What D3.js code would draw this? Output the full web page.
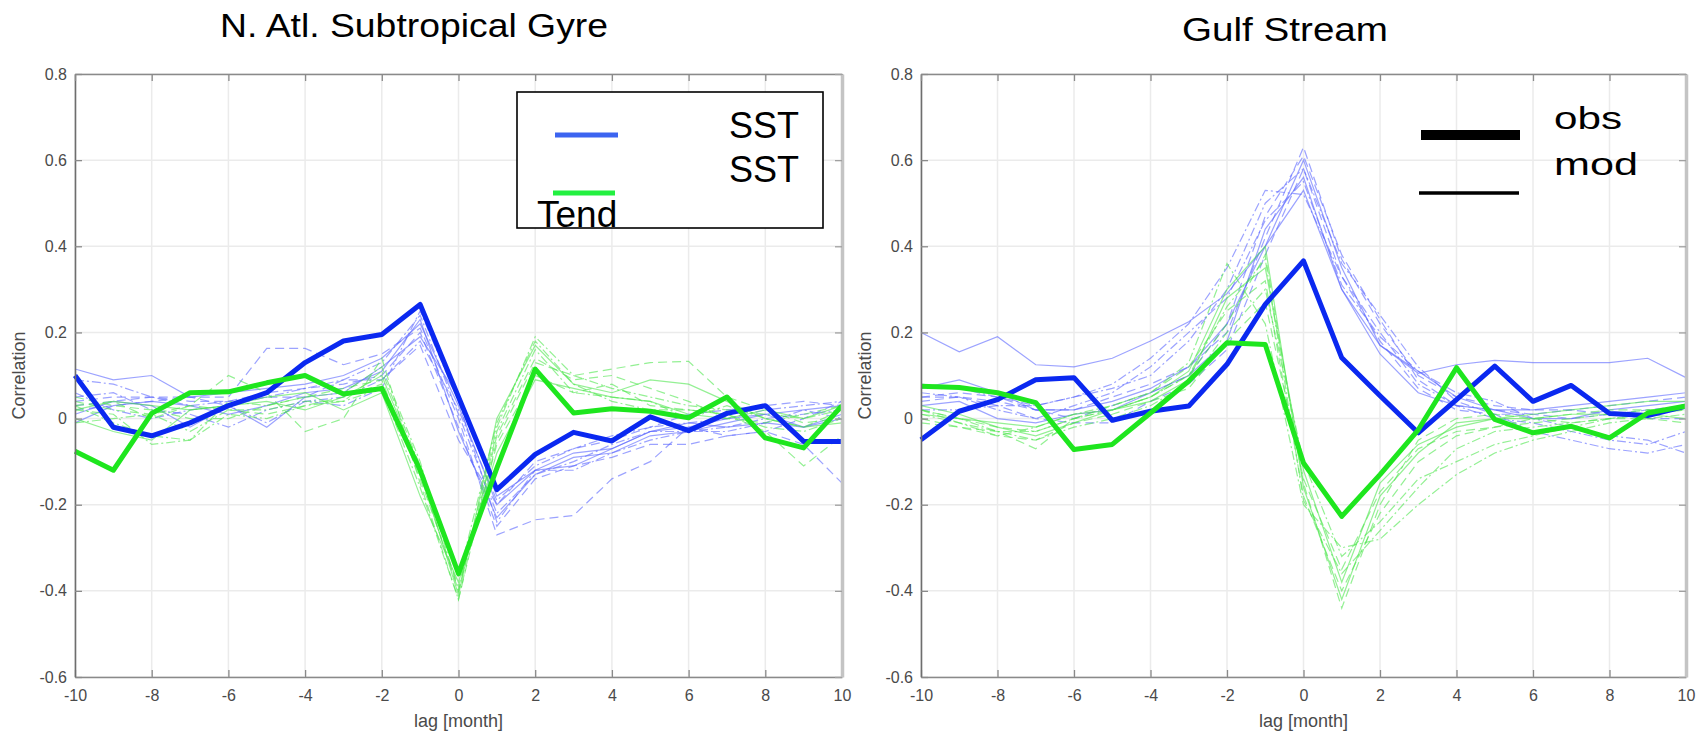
<!DOCTYPE html>
<html lang="en">
<head>
  <meta charset="UTF-8">
  <title>Lagged correlation</title>
  <style>
    body { margin: 0; background: #fff; }
    text { font-family: "Liberation Sans", Arial, sans-serif; }
  </style>
</head>
<body>
<script src="https://d3js.org/d3.v7.min.js"></script>
<div class="chart-container"></div>
<script>
  // lags in months
  const lags = d3.range(-10, 11);
  const xTicks = [-10, -8, -6, -4, -2, 0, 2, 4, 6, 8, 10];
  const yTicks = [-0.6, -0.4, -0.2, 0, 0.2, 0.4, 0.6, 0.8];
  const yTickLabels = ["-0.6", "-0.4", "-0.2", "0", "0.2", "0.4", "0.6", "0.8"];

  // N. Atl. Subtropical Gyre: observations
  const gyreObsSST = [0.10, -0.02, -0.04, -0.01, 0.03, 0.06, 0.13, 0.18, 0.195, 0.265, 0.05, -0.165, -0.083, -0.032, -0.052, 0.004, -0.028, 0.012, 0.03, -0.053, -0.053];
  const gyreObsTend = [-0.076, -0.12, 0.012, 0.06, 0.062, 0.083, 0.10, 0.057, 0.07, -0.12, -0.36, -0.115, 0.115, 0.013, 0.023, 0.017, 0.002, 0.05, -0.045, -0.068, 0.03];

  // N. Atl. Subtropical Gyre: model members (SST)
  const gyreModSST = [
    [0.115, 0.09, 0.10, 0.05, 0.06, 0.07, 0.08, 0.10, 0.14, 0.22, 0.03, -0.20, -0.12, -0.11, -0.07, -0.03, -0.02, 0.0, 0.01, 0.02, 0.03],
    [0.04, 0.05, 0.05, 0.05, 0.05, 0.163, 0.163, 0.125, 0.15, 0.21, 0.0, -0.27, -0.235, -0.225, -0.14, -0.10, -0.02, -0.04, -0.03, -0.06, -0.15],
    [0.09, 0.08, 0.05, 0.03, 0.04, 0.05, 0.07, 0.09, 0.13, 0.24, 0.01, -0.22, -0.13, -0.10, -0.06, -0.03, -0.03, -0.02, 0.0, 0.01, 0.02],
    [0.01, 0.04, 0.03, -0.02, 0.03, -0.02, 0.05, 0.06, 0.12, 0.19, 0.05, -0.18, -0.12, -0.08, -0.07, -0.03, -0.01, -0.02, -0.01, -0.02, 0.0],
    [0.03, 0.04, 0.05, 0.04, 0.04, 0.06, 0.07, 0.08, 0.10, 0.20, -0.02, -0.25, -0.14, -0.11, -0.09, -0.06, -0.06, -0.04, -0.03, 0.0, 0.04],
    [0.05, 0.06, 0.02, 0.01, -0.02, 0.02, 0.04, 0.05, 0.09, 0.18, 0.02, -0.19, -0.11, -0.07, -0.04, -0.02, -0.01, 0.0, 0.02, 0.03, 0.04],
    [-0.01, 0.03, 0.04, 0.03, 0.01, 0.03, 0.06, 0.07, 0.11, 0.23, -0.03, -0.23, -0.13, -0.09, -0.08, -0.04, -0.03, -0.01, 0.01, -0.02, 0.01],
    [0.02, 0.03, 0.04, 0.05, 0.03, 0.05, 0.05, 0.09, 0.09, 0.17, -0.05, -0.20, -0.10, -0.07, -0.05, -0.02, 0.01, 0.02, 0.03, 0.04, 0.03],
    [0.06, 0.02, 0.0, 0.02, 0.03, -0.01, 0.04, 0.03, 0.07, 0.25, 0.04, -0.24, -0.12, -0.12, -0.08, -0.05, -0.03, -0.03, -0.01, 0.02, 0.0]
  ];
  // N. Atl. Subtropical Gyre: model members (SST tendency)
  const gyreModTend = [
    [0.03, 0.04, 0.0, 0.03, 0.10, 0.06, -0.03, 0.0, 0.14, -0.15, -0.42, -0.05, 0.13, 0.10, 0.115, 0.13, 0.133, 0.05, 0.02, -0.01, 0.0],
    [0.02, 0.01, -0.06, -0.05, 0.04, 0.03, 0.05, 0.06, 0.12, -0.10, -0.40, -0.02, 0.19, 0.10, 0.07, 0.05, 0.03, 0.02, 0.01, 0.0, 0.02],
    [0.0, -0.03, -0.05, 0.02, 0.03, 0.04, 0.02, 0.05, 0.10, -0.12, -0.41, 0.0, 0.17, 0.08, 0.06, 0.09, 0.08, 0.04, 0.0, -0.02, -0.01],
    [0.05, 0.03, 0.02, 0.0, 0.0, 0.03, 0.05, 0.07, 0.09, -0.14, -0.39, -0.06, 0.10, 0.06, 0.08, 0.03, 0.02, 0.01, -0.03, -0.11, -0.04],
    [-0.01, 0.0, 0.01, -0.03, 0.02, 0.02, 0.04, 0.04, 0.07, -0.16, -0.42, -0.03, 0.16, 0.06, 0.05, 0.04, 0.0, 0.03, 0.0, -0.02, 0.02],
    [0.02, 0.04, 0.03, 0.02, 0.03, 0.05, 0.06, 0.02, 0.06, -0.18, -0.38, -0.08, 0.09, 0.07, 0.05, 0.04, 0.01, 0.0, 0.02, 0.0, 0.03],
    [0.04, 0.02, 0.01, 0.03, 0.02, 0.01, 0.03, 0.05, 0.08, -0.13, -0.40, -0.04, 0.14, 0.09, 0.10, 0.07, 0.04, 0.0, -0.01, 0.01, 0.03],
    [0.03, -0.01, -0.04, -0.05, 0.01, 0.0, 0.03, 0.04, 0.11, -0.11, -0.37, -0.01, 0.18, 0.08, 0.04, 0.02, 0.02, 0.01, -0.02, -0.03, 0.0]
  ];

  // Gulf Stream: observations
  const gulfObsSST = [-0.049, 0.017, 0.044, 0.09, 0.095, -0.004, 0.017, 0.029, 0.126, 0.265, 0.366, 0.141, 0.053, -0.033, 0.044, 0.122, 0.04, 0.077, 0.012, 0.007, 0.029];
  const gulfObsTend = [0.075, 0.072, 0.06, 0.037, -0.072, -0.06, 0.013, 0.087, 0.176, 0.172, -0.103, -0.227, -0.13, -0.026, 0.118, -0.002, -0.033, -0.018, -0.045, 0.013, 0.029];

  // Gulf Stream: model members (SST)
  const gulfModSST = [
    [0.20, 0.155, 0.19, 0.125, 0.12, 0.14, 0.18, 0.225, 0.29, 0.40, 0.53, 0.30, 0.17, 0.105, 0.125, 0.135, 0.13, 0.13, 0.13, 0.14, 0.095],
    [0.05, 0.05, 0.04, 0.02, 0.02, 0.05, 0.08, 0.12, 0.20, 0.42, 0.63, 0.37, 0.22, 0.10, 0.05, 0.03, 0.02, 0.02, 0.01, 0.0, 0.0],
    [0.08, 0.07, 0.05, 0.03, 0.05, 0.08, 0.14, 0.22, 0.35, 0.53, 0.52, 0.33, 0.20, 0.08, 0.03, 0.0, -0.01, -0.03, -0.05, -0.06, -0.03],
    [0.07, 0.09, 0.06, 0.02, 0.02, 0.04, 0.07, 0.12, 0.22, 0.40, 0.60, 0.35, 0.17, 0.11, 0.05, 0.02, 0.02, 0.03, 0.04, 0.05, 0.06],
    [0.04, 0.05, 0.03, 0.0, -0.01, -0.01, 0.04, 0.08, 0.16, 0.38, 0.58, 0.33, 0.18, 0.07, 0.02, 0.01, 0.01, 0.0, 0.01, 0.02, 0.03],
    [0.02, 0.02, 0.03, 0.03, 0.05, 0.07, 0.10, 0.18, 0.30, 0.50, 0.58, 0.36, 0.24, 0.12, 0.04, 0.01, -0.03, -0.05, -0.07, -0.08, -0.06],
    [0.03, 0.04, 0.0, -0.01, 0.01, 0.02, 0.06, 0.10, 0.18, 0.44, 0.56, 0.30, 0.15, 0.06, 0.03, 0.02, 0.0, 0.0, 0.02, 0.03, 0.04],
    [0.05, 0.06, 0.05, 0.02, 0.0, 0.03, 0.06, 0.10, 0.22, 0.47, 0.61, 0.38, 0.23, 0.09, 0.03, 0.02, 0.01, 0.02, 0.03, 0.04, 0.05],
    [0.06, 0.05, 0.02, 0.0, 0.03, 0.06, 0.12, 0.20, 0.28, 0.46, 0.55, 0.31, 0.19, 0.11, 0.06, 0.04, 0.0, -0.02, -0.04, -0.05, -0.08]
  ];
  // Gulf Stream: model members (SST tendency)
  const gulfModTend = [
    [0.02, 0.0, -0.02, -0.03, 0.0, 0.02, 0.05, 0.10, 0.22, 0.38, -0.15, -0.44, -0.20, -0.05, 0.0, 0.01, 0.0, -0.01, 0.0, 0.0, -0.01],
    [0.01, -0.01, -0.04, -0.02, 0.01, 0.03, 0.06, 0.13, 0.36, 0.22, -0.20, -0.30, -0.28, -0.20, -0.13, -0.08, -0.05, -0.03, -0.01, 0.0, 0.01],
    [0.03, 0.01, -0.02, -0.04, -0.01, 0.02, 0.04, 0.09, 0.28, 0.35, -0.12, -0.38, -0.15, -0.06, -0.02, 0.0, 0.01, 0.02, 0.03, 0.04, 0.04],
    [0.0, -0.02, -0.03, -0.07, 0.0, 0.03, 0.06, 0.12, 0.25, 0.32, -0.18, -0.40, -0.22, -0.10, -0.04, -0.02, -0.01, 0.0, 0.01, 0.02, 0.02],
    [0.02, -0.01, -0.03, -0.05, -0.02, 0.0, 0.03, 0.08, 0.20, 0.30, -0.10, -0.32, -0.24, -0.14, -0.10, -0.06, -0.04, -0.02, 0.0, 0.01, 0.03],
    [0.01, 0.0, -0.01, -0.02, 0.01, 0.02, 0.05, 0.11, 0.30, 0.40, -0.16, -0.42, -0.18, -0.08, -0.01, 0.0, 0.0, 0.01, 0.01, 0.01, 0.0],
    [-0.01, -0.02, -0.04, -0.05, -0.01, 0.01, 0.04, 0.07, 0.18, 0.27, -0.14, -0.35, -0.17, -0.07, -0.03, -0.02, 0.0, 0.01, 0.02, 0.02, 0.02],
    [0.02, 0.0, -0.03, -0.03, 0.0, 0.02, 0.05, 0.10, 0.26, 0.37, -0.19, -0.36, -0.26, -0.16, -0.07, -0.03, -0.02, -0.01, 0.0, 0.01, 0.02]
  ];

  // line styles cycled over the model members
  const dashes = [null, "9,5", "9,3,2,3"];

  const W = 1707, H = 734;
  const svg = d3.select(".chart-container")
          .append("svg")
          .attr("width", W)
          .attr("height", H);

  function panel(opts) {
    const x = d3.scaleLinear().domain([-10, 10]).range([opts.left, opts.right]);
    const y = d3.scaleLinear().domain([-0.6, 0.8]).range([677, 74]);
    const g = svg.append("g");

    // grid
    g.append("g").selectAll("line.gx").data(xTicks).join("line")
            .attr("x1", d => x(d)).attr("x2", d => x(d))
            .attr("y1", y(0.8)).attr("y2", y(-0.6))
            .attr("stroke", "#ebebeb").attr("stroke-width", 1.5);
    g.append("g").selectAll("line.gy").data(yTicks).join("line")
            .attr("y1", d => y(d)).attr("y2", d => y(d))
            .attr("x1", x(-10)).attr("x2", x(10))
            .attr("stroke", "#ebebeb").attr("stroke-width", 1.5);

    const line = d3.line().x((d, i) => x(lags[i])).y(d => y(d));

    // model members
    opts.modSST.forEach((s, i) => {
      g.append("path").attr("d", line(s))
              .attr("fill", "none").attr("stroke", "#5a66ff")
              .attr("stroke-opacity", 0.6).attr("stroke-width", 1.2)
              .attr("stroke-dasharray", dashes[i % 3]);
    });
    opts.modTend.forEach((s, i) => {
      g.append("path").attr("d", line(s))
              .attr("fill", "none").attr("stroke", "#4ce64c")
              .attr("stroke-opacity", 0.6).attr("stroke-width", 1.2)
              .attr("stroke-dasharray", dashes[(i + 1) % 3]);
    });

    // observations
    g.append("path").attr("d", line(opts.obsSST))
            .attr("fill", "none").attr("stroke", "#0a28f0")
            .attr("stroke-width", 5).attr("stroke-linejoin", "round");
    g.append("path").attr("d", line(opts.obsTend))
            .attr("fill", "none").attr("stroke", "#1ee61e")
            .attr("stroke-width", 5).attr("stroke-linejoin", "round");

    // axes
    const fmt = v => yTickLabels[yTicks.indexOf(v)];
    const ax = g.append("g").attr("transform", `translate(0,${y(-0.6)})`)
            .call(d3.axisBottom(x).tickValues(xTicks).tickSizeInner(-7).tickSizeOuter(0)
                    .tickPadding(13).tickFormat(d => String(d).replace("−", "-")));
    const ay = g.append("g").attr("transform", `translate(${x(-10)},0)`)
            .call(d3.axisLeft(y).tickValues(yTicks).tickSizeInner(-7).tickSizeOuter(0)
                    .tickPadding(8).tickFormat(fmt));
    const at = g.append("g").attr("transform", `translate(0,${y(0.8)})`)
            .call(d3.axisTop(x).tickValues(xTicks).tickSizeInner(-7).tickSizeOuter(0).tickFormat(""));
    const ar = g.append("g").attr("transform", `translate(${x(10)},0)`)
            .call(d3.axisRight(y).tickValues(yTicks).tickSizeInner(-7).tickSizeOuter(0).tickFormat(""));
    [ax, ay, at].forEach(a => {
      a.select(".domain").attr("stroke", "#8a8a8a").attr("stroke-width", 1.6);
      a.selectAll(".tick line").attr("stroke", "#8a8a8a").attr("stroke-width", 1.3);
    });
    ar.select(".domain").attr("stroke", "#c4c4c4").attr("stroke-width", 3.5);
    ar.selectAll(".tick line").attr("stroke", "#a0a0a0").attr("stroke-width", 1.3);
    ay.select(".domain").attr("stroke", "#6e6e6e");
    [ax, ay].forEach(a => a.selectAll(".tick text")
            .attr("fill", "#4a4a4a").attr("font-size", 16)
            .attr("font-family", "Liberation Sans, Arial, sans-serif"));

    // labels
    g.append("text").attr("x", (x(-10) + x(10)) / 2).attr("y", 727)
            .attr("text-anchor", "middle").attr("font-size", 18).attr("fill", "#4a4a4a")
            .text("lag [month]");
    g.append("text")
            .attr("transform", `translate(${opts.left - 50},${(y(0.8) + y(-0.6)) / 2}) rotate(-90)`)
            .attr("text-anchor", "middle").attr("font-size", 18).attr("fill", "#4a4a4a")
            .text("Correlation");

    // title
    g.append("text").attr("x", opts.titleX).attr("y", opts.titleY)
            .attr("text-anchor", "middle").attr("font-size", 33).attr("fill", "#000")
            .attr("textLength", opts.titleLen).attr("lengthAdjust", "spacingAndGlyphs")
            .text(opts.title);
    return g;
  }

  panel({left: 75, right: 842, title: "N. Atl. Subtropical Gyre", titleX: 414, titleY: 37, titleLen: 388,
    obsSST: gyreObsSST, obsTend: gyreObsTend, modSST: gyreModSST, modTend: gyreModTend});
  panel({left: 921, right: 1686, title: "Gulf Stream", titleX: 1285, titleY: 41, titleLen: 206,
    obsSST: gulfObsSST, obsTend: gulfObsTend, modSST: gulfModSST, modTend: gulfModTend});

  // left legend
  const lg = svg.append("g");
  lg.append("rect").attr("x", 517).attr("y", 92).attr("width", 306).attr("height", 136)
          .attr("fill", "#fff").attr("stroke", "#000").attr("stroke-width", 1.6);
  lg.append("line").attr("x1", 555).attr("x2", 618).attr("y1", 135).attr("y2", 135)
          .attr("stroke", "#3c64f0").attr("stroke-width", 5);
  lg.append("line").attr("x1", 553).attr("x2", 615).attr("y1", 193).attr("y2", 193)
          .attr("stroke", "#22f040").attr("stroke-width", 5);
  lg.append("text").attr("x", 729).attr("y", 138).attr("font-size", 36).text("SST");
  lg.append("text").attr("x", 729).attr("y", 182).attr("font-size", 36).text("SST");
  lg.append("text").attr("x", 537).attr("y", 227).attr("font-size", 37).text("Tend");

  // right legend
  const rg = svg.append("g");
  rg.append("line").attr("x1", 1421).attr("x2", 1520).attr("y1", 135).attr("y2", 135)
          .attr("stroke", "#000").attr("stroke-width", 10);
  rg.append("line").attr("x1", 1419).attr("x2", 1519).attr("y1", 193).attr("y2", 193)
          .attr("stroke", "#000").attr("stroke-width", 3.5);
  rg.append("text").attr("x", 1554).attr("y", 129).attr("font-size", 32)
          .attr("textLength", 68).attr("lengthAdjust", "spacingAndGlyphs").text("obs");
  rg.append("text").attr("x", 1554).attr("y", 175).attr("font-size", 32)
          .attr("textLength", 84).attr("lengthAdjust", "spacingAndGlyphs").text("mod");
</script>
</body>
</html>
